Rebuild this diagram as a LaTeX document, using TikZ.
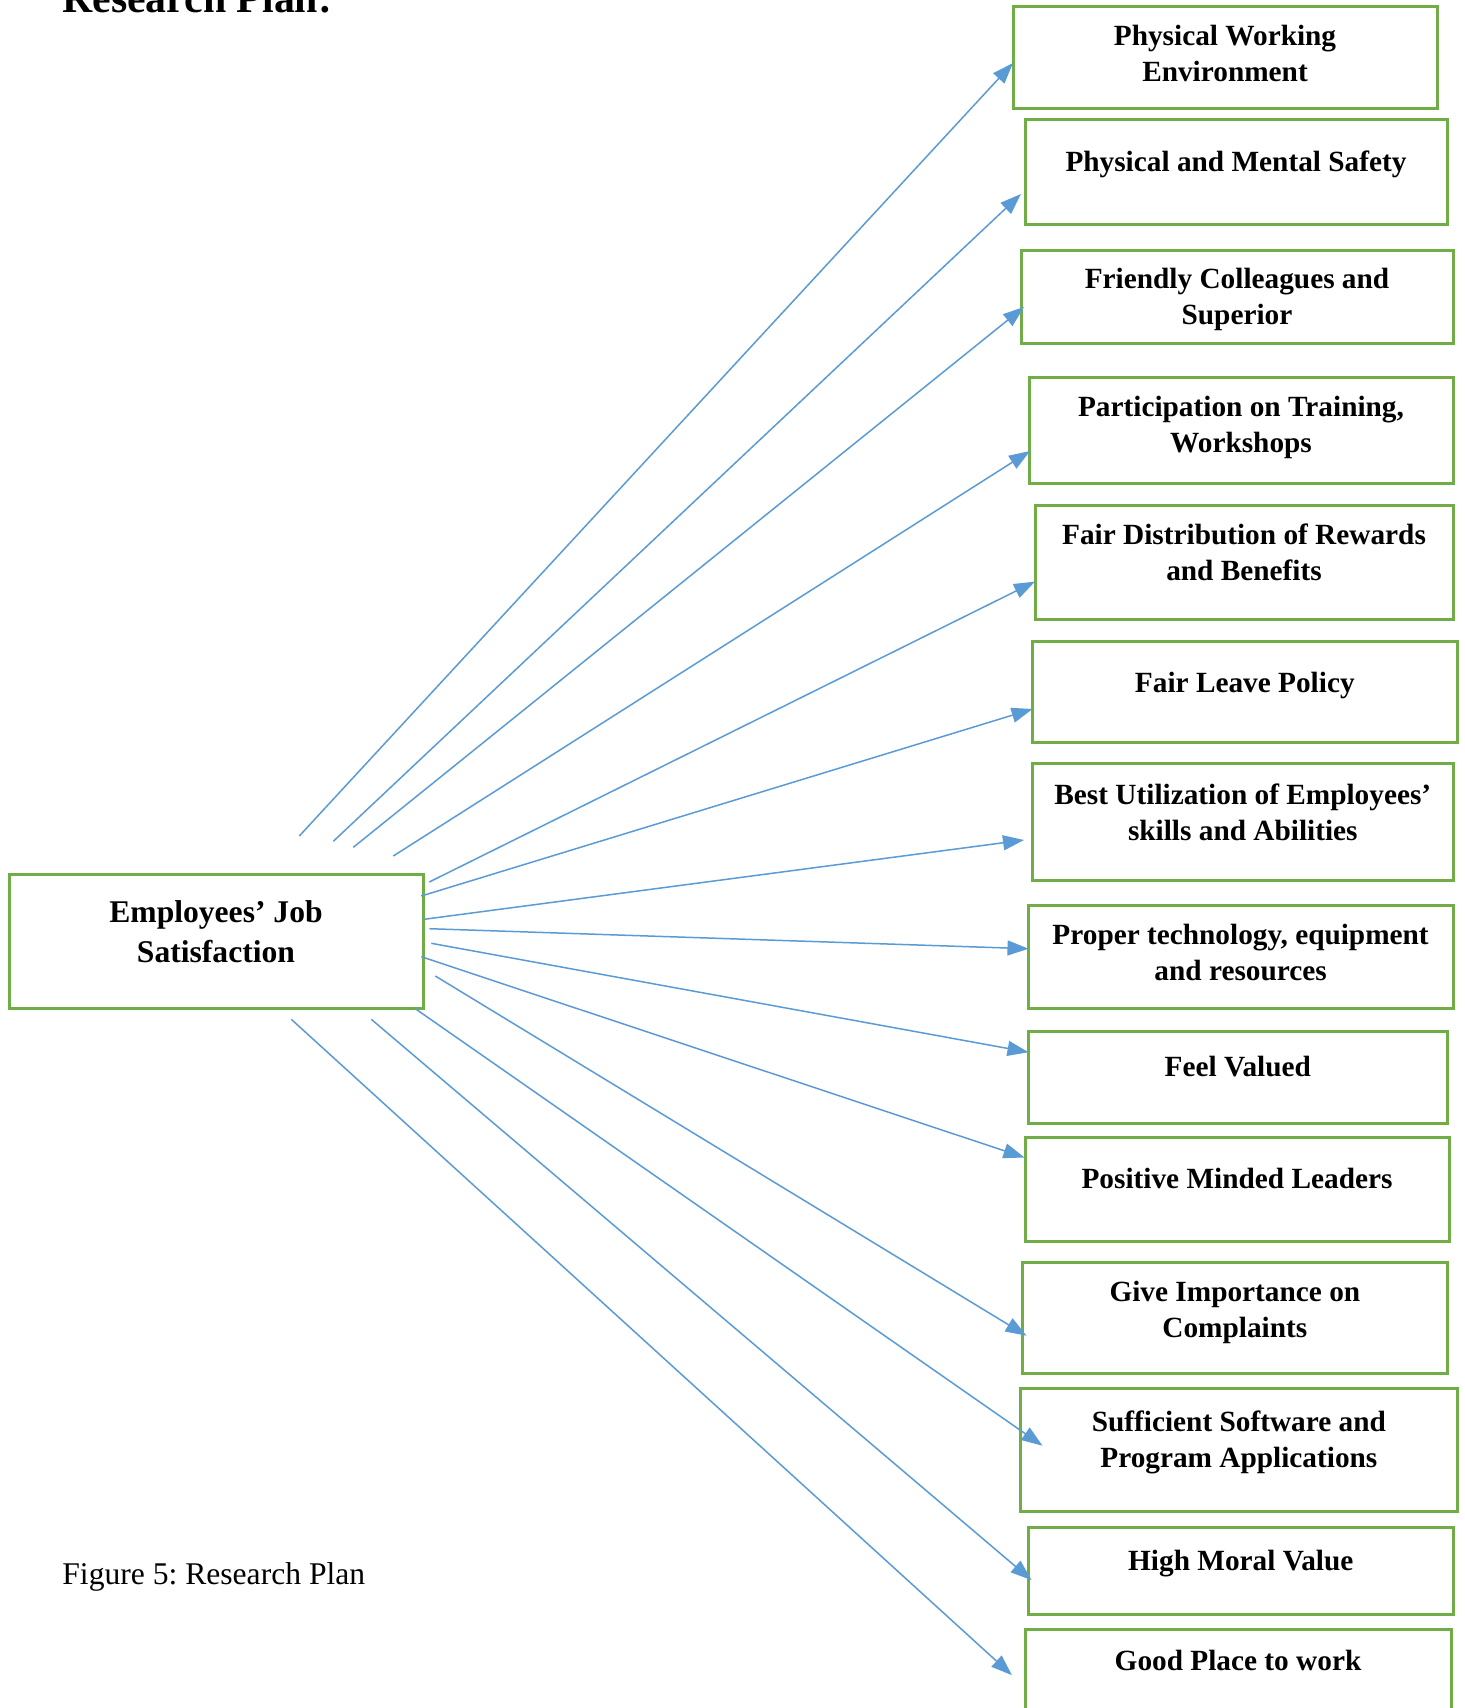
\documentclass[tikz,border=0pt]{standalone}
\usepackage{fontspec}
\setmainfont{Liberation Serif}
\usetikzlibrary{arrows.meta,fit}

\definecolor{boxgreen}{HTML}{70AD47}
\definecolor{linkblue}{HTML}{5B9BD5}

% strut that fixes the height of the first text line
\newcommand\firstline{\rule{0pt}{13pt}}
\newcommand\mainline{\rule{0pt}{14pt}}

\tikzset{
  factorbox/.style={draw=boxgreen, line width=1.5pt, rectangle, inner sep=0pt},
  factortext/.style={font=\fontsize{14.65pt}{18pt}\selectfont\bfseries, align=center, inner sep=0pt, anchor=north},
  maintext/.style={font=\fontsize{15.8pt}{20pt}\selectfont\bfseries, align=center, inner sep=0pt, anchor=north},
  link/.style={draw=linkblue, line width=0.75pt, -{Triangle[length=10.5pt,width=7.5pt]}}
}

\begin{document}
\frenchspacing
\begin{tikzpicture}[x=0.5pt, y=-0.5pt]
\useasboundingbox (0,0) rectangle (1465,1708);
\fill[white] (0,0) rectangle (1465,1708);
\clip (0,0) rectangle (1465,1708);

% heading (runs off the top edge) and caption
\node[anchor=base west, inner sep=0pt, font=\fontsize{20.9pt}{24pt}\selectfont\bfseries] (title) at (62,12.7) {Research Plan:};
\node[anchor=base west, inner sep=0pt, font=\fontsize{15.8pt}{19pt}\selectfont] (caption) at (62,1584) {Figure 5: Research Plan};

% central box
\node[factorbox, fit={(9,874.7) (423,1008.7)}] (main) {};
\node[maintext] (maint) at (216,893.7) {\mainline Employees’ Job\\Satisfaction};

% factor boxes
\node[factorbox, fit={(1013,6.5) (1437,108)}] (b1) {};
\node[factortext] (t1) at (1225,19) {\firstline Physical Working\\Environment};

\node[factorbox, fit={(1025,119) (1447,224.5)}] (b2) {};
\node[factortext] (t2) at (1236,144.7) {\firstline Physical and Mental Safety};

\node[factorbox, fit={(1021,250) (1453,343.5)}] (b3) {};
\node[factortext] (t3) at (1237,262.3) {\firstline Friendly Colleagues and\\Superior};

\node[factorbox, fit={(1029,377.5) (1453,483)}] (b4) {};
\node[factortext] (t4) at (1241,390) {\firstline Participation on Training,\\Workshops};

\node[factorbox, fit={(1035,505.5) (1453,619.8)}] (b5) {};
\node[factortext] (t5) at (1244,517.7) {\firstline Fair Distribution of Rewards\\and Benefits};

\node[factorbox, fit={(1032.6,641.5) (1457,742.8)}] (b6) {};
\node[factortext] (t6) at (1244.8,665.8) {\firstline Fair Leave Policy};

\node[factorbox, fit={(1032.6,763.5) (1453,880.1)}] (b7) {};
\node[factortext] (t7) at (1242.8,778) {\firstline Best Utilization of Employees’\\skills and Abilities};

\node[factorbox, fit={(1028.2,905.1) (1453,1008.6)}] (b8) {};
\node[factortext] (t8) at (1240.6,918.5) {\firstline Proper technology, equipment\\and resources};

\node[factorbox, fit={(1028.5,1031.5) (1447,1123)}] (b9) {};
\node[factortext] (t9) at (1237.75,1050.3) {\firstline Feel Valued};

\node[factorbox, fit={(1025,1137.3) (1449,1241)}] (b10) {};
\node[factortext] (t10) at (1237,1162.3) {\firstline Positive Minded Leaders};

\node[factorbox, fit={(1022.7,1262) (1447,1373.5)}] (b11) {};
\node[factortext] (t11) at (1234.85,1274.7) {\firstline Give Importance on\\Complaints};

\node[factorbox, fit={(1020.7,1388.5) (1457,1511.5)}] (b12) {};
\node[factortext] (t12) at (1238.85,1404.7) {\firstline Sufficient Software and\\Program Applications};

\node[factorbox, fit={(1028.5,1527.5) (1453,1614.2)}] (b13) {};
\node[factortext] (t13) at (1240.75,1544) {\firstline High Moral Value};

\node[factorbox, fit={(1025,1629.4) (1451,1740)}] (b14) {};
\node[factortext] (t14) at (1238,1644) {\firstline Good Place to work};

% start points of the links around the central box
\coordinate (s1) at (299.3,836);
\coordinate (s2) at (333.3,841.3);
\coordinate (s3) at (353.3,847.3);
\coordinate (s4) at (393.3,856);
\coordinate (s5) at (429.3,882);
\coordinate (s6) at (421.3,896);
\coordinate (s7) at (424,919.3);
\coordinate (s8) at (429.3,928.7);
\coordinate (s9) at (431.3,943.3);
\coordinate (s10) at (421.3,956.7);
\coordinate (s11) at (435.3,976);
\coordinate (s12) at (415.3,1008.7);
\coordinate (s13) at (371.3,1019.3);
\coordinate (s14) at (291.3,1019.3);

% arrow tips at the factor boxes
\coordinate (e1) at (1013,63);
\coordinate (e2) at (1021,194);
\coordinate (e3) at (1024,307);
\coordinate (e4) at (1030,451);
\coordinate (e5) at (1035,581.6);
\coordinate (e6) at (1032.6,709);
\coordinate (e7) at (1024,840);
\coordinate (e8) at (1028.5,948.7);
\coordinate (e9) at (1028.5,1052.2);
\coordinate (e10) at (1024.5,1157.5);
\coordinate (e11) at (1026.5,1335.7);
\coordinate (e12) at (1042.5,1445.7);
\coordinate (e13) at (1031.5,1580);
\coordinate (e14) at (1012,1675.2);

\foreach \k in {1,...,14} {
  \draw[link] (s\k) -- (e\k);
}
\end{tikzpicture}
\end{document}
